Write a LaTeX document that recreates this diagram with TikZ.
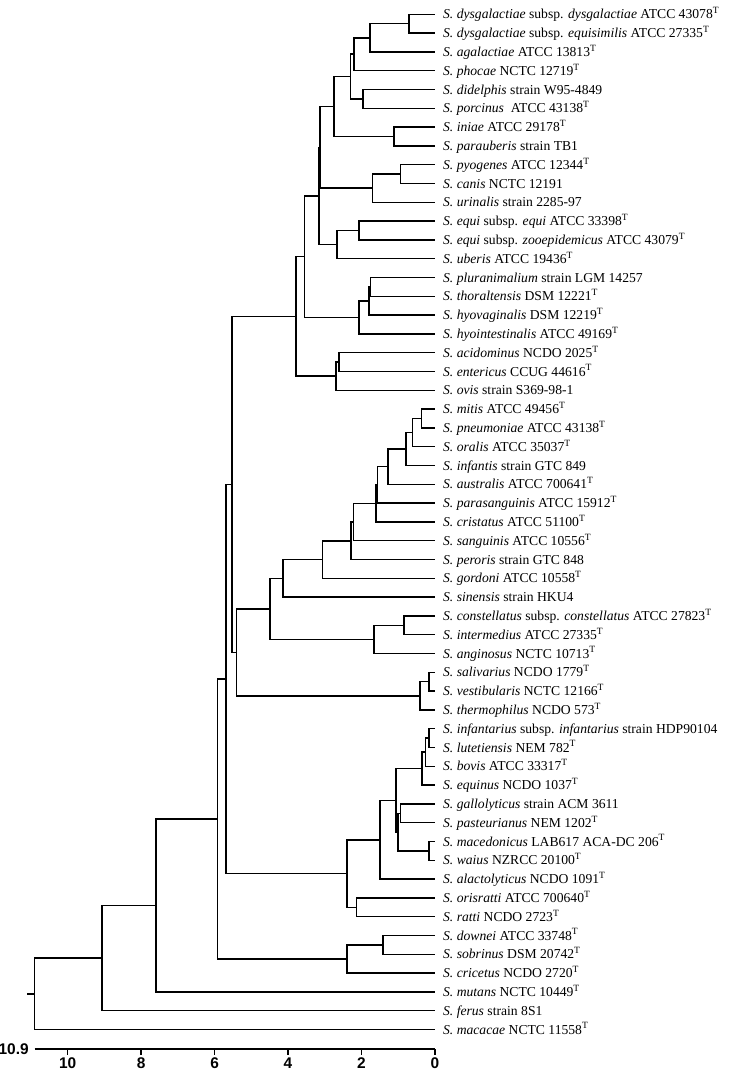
\documentclass[tikz,border=0pt]{standalone}
\usepackage{fontspec}
\setmainfont{Liberation Serif}
\newfontfamily\axisfont{Liberation Sans}
\usetikzlibrary{calc}
\newcommand\tstrain{\textsuperscript{T}}
% name, distance, upper child, lower child
\newcommand\clade[4]{%
  \path let \p1=($(#3)!.5!(#4)$), \p2=(-#2,0) in coordinate (#1) at (\x2,\y1);
  \draw[branch] (#3) -| (#1) |- (#4);}

\begin{document}
\begin{tikzpicture}[x=0.918cm,y=0.47cm,
    branch/.style={line width=1.1pt},
    leaf/.style={anchor=base west,inner sep=0pt,xshift=0.2cm,yshift=-3.2pt,
        font=\fontsize{9.7}{11}\selectfont},
    scalelab/.style={font=\axisfont\bfseries\fontsize{11}{13}\selectfont,inner sep=0pt}]
    \useasboundingbox (-11.843,0.761) rectangle (8.304,-56.473);
    % leaves
    \foreach \lab [count=\i from 0] in {
        {\textit{S. dysgalactiae} subsp. \textit{dysgalactiae} ATCC 43078\tstrain},
        {\textit{S. dysgalactiae} subsp. \textit{equisimilis} ATCC 27335\tstrain},
        {\textit{S. agalactiae} ATCC 13813\tstrain},
        {\textit{S. phocae} NCTC 12719\tstrain},
        {\textit{S. didelphis} strain W95-4849},
        {\textit{S. porcinus}~ ATCC 43138\tstrain},
        {\textit{S. iniae} ATCC 29178\tstrain},
        {\textit{S. parauberis} strain TB1},
        {\textit{S. pyogenes} ATCC 12344\tstrain},
        {\textit{S. canis} NCTC 12191},
        {\textit{S. urinalis} strain 2285-97},
        {\textit{S. equi} subsp. \textit{equi} ATCC 33398\tstrain},
        {\textit{S. equi} subsp. \textit{zooepidemicus} ATCC 43079\tstrain},
        {\textit{S. uberis} ATCC 19436\tstrain},
        {\textit{S. pluranimalium} strain LGM 14257},
        {\textit{S. thoraltensis} DSM 12221\tstrain},
        {\textit{S. hyovaginalis} DSM 12219\tstrain},
        {\textit{S. hyointestinalis} ATCC 49169\tstrain},
        {\textit{S. acidominus} NCDO 2025\tstrain},
        {\textit{S. entericus} CCUG 44616\tstrain},
        {\textit{S. ovis} strain S369-98-1},
        {\textit{S. mitis} ATCC 49456\tstrain},
        {\textit{S. pneumoniae} ATCC 43138\tstrain},
        {\textit{S. oralis} ATCC 35037\tstrain},
        {\textit{S. infantis} strain GTC 849},
        {\textit{S. australis} ATCC 700641\tstrain},
        {\textit{S. parasanguinis} ATCC 15912\tstrain},
        {\textit{S. cristatus} ATCC 51100\tstrain},
        {\textit{S. sanguinis} ATCC 10556\tstrain},
        {\textit{S. peroris} strain GTC 848},
        {\textit{S. gordoni} ATCC 10558\tstrain},
        {\textit{S. sinensis} strain HKU4},
        {\textit{S. constellatus} subsp. \textit{constellatus} ATCC 27823\tstrain},
        {\textit{S. intermedius} ATCC 27335\tstrain},
        {\textit{S. anginosus} NCTC 10713\tstrain},
        {\textit{S. salivarius} NCDO 1779\tstrain},
        {\textit{S. vestibularis} NCTC 12166\tstrain},
        {\textit{S. thermophilus} NCDO 573\tstrain},
        {\textit{S. infantarius} subsp. \textit{infantarius} strain HDP90104},
        {\textit{S. lutetiensis} NEM 782\tstrain},
        {\textit{S. bovis} ATCC 33317\tstrain},
        {\textit{S. equinus} NCDO 1037\tstrain},
        {\textit{S. gallolyticus} strain ACM 3611},
        {\textit{S. pasteurianus} NEM 1202\tstrain},
        {\textit{S. macedonicus} LAB617 ACA-DC 206\tstrain},
        {\textit{S. waius} NZRCC 20100\tstrain},
        {\textit{S. alactolyticus} NCDO 1091\tstrain},
        {\textit{S. orisratti} ATCC 700640\tstrain},
        {\textit{S. ratti} NCDO 2723\tstrain},
        {\textit{S. downei} ATCC 33748\tstrain},
        {\textit{S. sobrinus} DSM 20742\tstrain},
        {\textit{S. cricetus} NCDO 2720\tstrain},
        {\textit{S. mutans} NCTC 10449\tstrain},
        {\textit{S. ferus} strain 8S1},
        {\textit{S. macacae} NCTC 11558\tstrain}}{
        \coordinate (t\i) at (0,-\i);
        \node[leaf] (l\i) at (t\i) {\lab};
    }
    % pyogenic group
    \clade{dys}{0.70}{t0}{t1}
    \clade{aga}{1.77}{dys}{t2}
    \clade{pho}{2.20}{aga}{t3}
    \clade{por}{1.95}{t4}{t5}
    \clade{pygA}{2.30}{pho}{por}
    \clade{ini}{1.11}{t6}{t7}
    \clade{pygB}{2.74}{pygA}{ini}
    \clade{can}{0.93}{t8}{t9}
    \clade{uri}{1.70}{can}{t10}
    \clade{pygC}{3.13}{pygB}{uri}
    \clade{equ}{2.06}{t11}{t12}
    \clade{ube}{2.67}{equ}{t13}
    \clade{pygD}{3.16}{pygC}{ube}
    \clade{plu}{1.75}{t14}{t15}
    \clade{hyv}{1.80}{plu}{t16}
    \clade{hyi}{2.06}{hyv}{t17}
    \clade{pygE}{3.55}{pygD}{hyi}
    \clade{aci}{2.61}{t18}{t19}
    \clade{ovi}{2.70}{aci}{t20}
    \clade{pyg}{3.78}{pygE}{ovi}
    % mitis, anginosus and salivarius groups
    \clade{mit}{0.36}{t21}{t22}
    \clade{ora}{0.61}{mit}{t23}
    \clade{inf}{0.79}{ora}{t24}
    \clade{aus}{1.27}{inf}{t25}
    \clade{par}{1.56}{aus}{t26}
    \clade{cri}{1.61}{par}{t27}
    \clade{san}{2.22}{cri}{t28}
    \clade{per}{2.29}{san}{t29}
    \clade{gor}{3.06}{per}{t30}
    \clade{sin}{4.13}{gor}{t31}
    \clade{con}{0.84}{t32}{t33}
    \clade{ang}{1.66}{con}{t34}
    \clade{mitG}{4.49}{sin}{ang}
    \clade{sal}{0.16}{t35}{t36}
    \clade{the}{0.41}{sal}{t37}
    \clade{viri}{5.40}{mitG}{the}
    \clade{upper}{5.53}{pyg}{viri}
    % bovis group
    \clade{lut}{0.16}{t38}{t39}
    \clade{bov}{0.26}{lut}{t40}
    \clade{eqn}{0.35}{bov}{t41}
    \clade{gal}{0.93}{t42}{t43}
    \clade{mac}{0.16}{t44}{t45}
    \clade{pas}{1.00}{gal}{mac}
    \clade{bovG}{1.06}{eqn}{pas}
    \clade{ala}{1.50}{bovG}{t46}
    \clade{rat}{2.13}{t47}{t48}
    \clade{bovis}{2.39}{ala}{rat}
    \clade{core}{5.69}{upper}{bovis}
    % mutans group and outgroups
    \clade{dow}{1.41}{t49}{t50}
    \clade{cric}{2.39}{dow}{t51}
    \clade{mutG}{5.92}{core}{cric}
    \clade{mut}{7.60}{mutG}{t52}
    \clade{fer}{9.06}{mut}{t53}
    \clade{root}{10.9}{fer}{t54}
    \coordinate (stem) at ($(root)+(-0.2,0)$);
    \draw[branch] (root) -- (stem);
    % distance scale
    \coordinate (axL) at (-10.9,-55.04);
    \coordinate (axR) at (0,-55.04);
    \draw[branch] (axL) -- (axR);
    \node[scalelab,anchor=east] (axlab) at ([xshift=-4pt]axL) {10.9};
    \foreach \v in {0,2,4,6,8,10}{
        \draw[branch] (-\v,-55.04) -- (-\v,-55.36);
        \node[scalelab] (tick\v) at (-\v,-55.78) {\v};
    }
\end{tikzpicture}
\end{document}
